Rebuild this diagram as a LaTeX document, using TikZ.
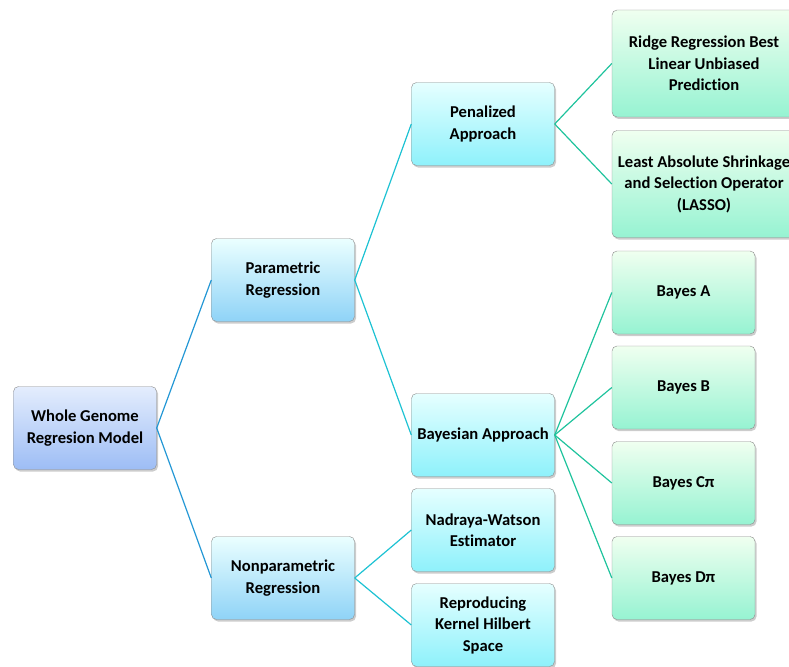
\documentclass[tikz,border=0pt]{standalone}
\usepackage{fontspec}
\setmainfont{Carlito}[Ligatures=NoCommon]
\usetikzlibrary{shadows}
\definecolor{wgBlue}{HTML}{2397D5}
\definecolor{wgCyan}{HTML}{1DC2D3}
\definecolor{wgTeal}{HTML}{1FC39D}
\definecolor{wgEdge}{HTML}{8C8C8C}

\begin{document}
\begin{tikzpicture}[
  x=1pt, y=-1pt,
  font=\fontsize{16.6}{21.5}\selectfont\bfseries,
  box/.style={draw=wgEdge, rounded corners=5pt, minimum width=143pt,
              minimum height=83pt, align=center, inner sep=3pt,
              drop shadow={opacity=0.4, shadow xshift=1.5pt, shadow yshift=-2pt}},
  rootbox/.style={box, top color={rgb,255:red,228;green,237;blue,253}, bottom color={rgb,255:red,157;green,189;blue,245}},
  midbox/.style={box, top color=cyan!8!white, bottom color={rgb,255:red,143;green,211;blue,247}},
  subbox/.style={box, top color=cyan!10!white, bottom color={rgb,255:red,142;green,241;blue,251}},
  leafbox/.style={box, top color=green!6!white, bottom color={rgb,255:red,150;green,243;blue,210}},
  widebox/.style={leafbox, minimum width=184pt, minimum height=107pt},
  link/.style={line width=1.2pt},
]
\useasboundingbox (0,0) rectangle (789,666);

% ----------------------- root and first split ---------------------------
\node[rootbox] (root) at (85,428) {Whole Genome\\Regresion Model};
\node[midbox] (par) at (283,280) {Parametric\\Regression};
\node[midbox] (nonpar) at (283,578) {Nonparametric\\Regression};
\draw[link, draw=wgBlue] (root.east) -- (par.west);
\draw[link, draw=wgBlue] (root.east) -- (nonpar.west);

% ----------------------- parametric -------------------------------------
\node[subbox] (pen) at (483,124) {Penalized\\Approach};
\node[subbox] (bay) at (483,435) {Bayesian Approach};
\draw[link, draw=wgCyan] (par.east) -- (pen.west);
\draw[link, draw=wgCyan] (par.east) -- (bay.west);

% ----------------------- nonparametric ----------------------------------
\node[subbox] (nw) at (483,530) {Nadraya-Watson\\Estimator};
\node[subbox] (rkhs) at (483,625) {Reproducing\\Kernel Hilbert\\Space};
\draw[link, draw=wgCyan] (nonpar.east) -- (nw.west);
\draw[link, draw=wgCyan] (nonpar.east) -- (rkhs.west);

% ----------------------- penalized leaves -------------------------------
\node[widebox] (rr) at (704,63.5) {Ridge Regression Best\\Linear Unbiased\\Prediction};
\node[widebox] (lasso) at (704,184) {Least Absolute Shrinkage\\and Selection Operator\\(LASSO)};
\draw[link, draw=wgTeal] (pen.east) -- (rr.west);
\draw[link, draw=wgTeal] (pen.east) -- (lasso.west);

% ----------------------- bayesian leaves --------------------------------
\foreach \n/\y/\t in {ba/292.5/A, bb/387.5/B, bc/483/Cπ, bd/578/Dπ} {
  \node[leafbox] (\n) at (683.5,\y) {Bayes \t};
  \draw[link, draw=wgTeal] (bay.east) -- (\n.west);
}
\end{tikzpicture}
\end{document}
